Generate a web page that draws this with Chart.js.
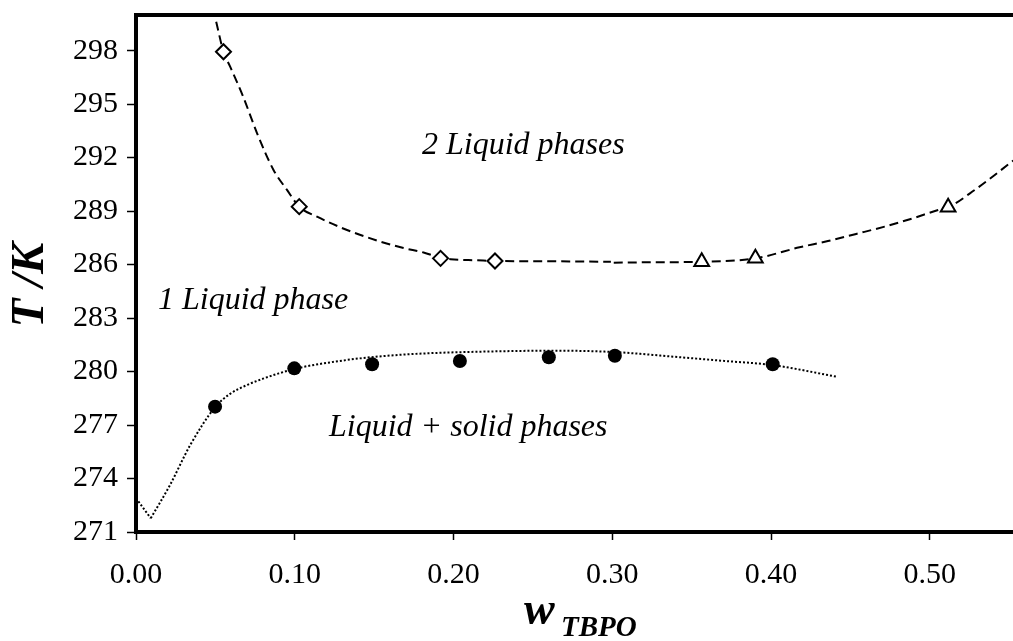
<!DOCTYPE html>
<html>
<head>
<meta charset="utf-8">
<script src="https://cdn.jsdelivr.net/npm/chart.js@4/dist/chart.umd.min.js"></script>
<style>
html,body{margin:0;padding:0;background:#fff;overflow:hidden;width:1013px;height:641px}
#wrap{width:1013px;height:641px;overflow:hidden;position:relative}
canvas{display:block;position:absolute;left:0;top:0}
</style>
</head>
<body>
<div id="wrap"><canvas id="c" width="1025" height="641"></canvas></div>
<script>
// ---- tick labels ----
const xTicks = [0, 0.1, 0.2, 0.3, 0.4, 0.5];
const yTicks = [271, 274, 277, 280, 283, 286, 289, 292, 295, 298];

// ---- measured points ----
const diamondX = [0.0551, 0.1028, 0.1918, 0.2261];
const diamondT = [297.94, 289.25, 286.35, 286.20];
const triangleX = [0.3563, 0.3901, 0.5115];
const triangleT = [286.16, 286.35, 289.21];
const circleX = [0.0498, 0.0997, 0.1487, 0.2040, 0.2600, 0.3016, 0.4010];
const circleT = [278.03, 280.18, 280.41, 280.59, 280.80, 280.89, 280.41];

// ---- fitted curves ----
const upperLeftX = [0.0505, 0.0551, 0.0593, 0.0675, 0.0762, 0.0866, 0.0951, 0.1028, 0.1140, 0.1329, 0.1539, 0.1685, 0.1811, 0.1918, 0.1981, 0.2150, 0.2261, 0.2505, 0.2991];
const upperLeftT = [299.62, 297.94, 297.10, 295.42, 293.38, 291.31, 290.19, 289.25, 288.69, 287.94, 287.29, 286.93, 286.68, 286.38, 286.30, 286.24, 286.20, 286.19, 286.16];
const upperRightX = [0.3009, 0.3243, 0.3563, 0.3901, 0.4179, 0.4358, 0.4536, 0.4715, 0.4894, 0.5052, 0.5115, 0.5283, 0.5525];
const upperRightT = [286.11, 286.13, 286.16, 286.35, 286.97, 287.32, 287.72, 288.13, 288.60, 289.06, 289.21, 290.19, 291.83];
const solidusNoseX = [0, 0.0093];
const solidusNoseT = [272.90, 271.77];
const solidusX = [0.0093, 0.0215, 0.0340, 0.0498, 0.0593, 0.0700, 0.0800, 0.0900, 0.1050, 0.1250, 0.1430, 0.1650, 0.1850, 0.2200, 0.2610, 0.3000, 0.3430, 0.3700, 0.4010, 0.4420];
const solidusT = [271.77, 273.65, 275.85, 278.00, 278.75, 279.25, 279.60, 279.90, 280.25, 280.55, 280.76, 280.93, 281.03, 281.12, 281.17, 281.10, 280.80, 280.60, 280.36, 279.70];

// ---- texts ----
const yTitle = 'T /K';
const xTitleMain = 'w';
const xTitleSub = 'TBPO';
const regionLabels = ['2 Liquid phases', '1 Liquid phase', 'Liquid + solid phases'];

const pts = (xs, ys) => xs.map((v, i) => ({x: v, y: ys[i]}));
const SERIF = '"Liberation Serif", "Times New Roman", serif';

const curve = (xs, ys, dash, width, mode) => ({
  data: pts(xs, ys), showLine: true, pointRadius: 0, borderColor: '#000',
  borderWidth: width, borderDash: dash, fill: false,
  tension: mode === 'linear' ? 0 : 0.4,
  cubicInterpolationMode: mode === 'linear' ? 'default' : 'monotone'
});

const decorPlugin = {
  id: 'decor',
  afterDatasetsDraw(chart) {
    const {ctx, chartArea: a} = chart;
    ctx.save();
    // top frame line
    ctx.strokeStyle = '#000';
    ctx.lineWidth = 4;
    ctx.beginPath();
    ctx.moveTo(a.left - 2, a.top);
    ctx.lineTo(chart.width, a.top);
    ctx.stroke();
    ctx.fillStyle = '#000';
    // region labels
    ctx.font = 'italic 32px ' + SERIF;
    ctx.textAlign = 'left';
    ctx.textBaseline = 'alphabetic';
    ctx.fillText(regionLabels[0], 422, 154);
    ctx.fillText(regionLabels[1], 158, 309);
    ctx.fillText(regionLabels[2], 329, 436);
    // y title
    ctx.save();
    ctx.translate(31, 285);
    ctx.rotate(-Math.PI / 2);
    ctx.font = 'bold italic 47px ' + SERIF;
    ctx.textAlign = 'center';
    ctx.textBaseline = 'middle';
    ctx.fillText(yTitle, 0, 0);
    ctx.restore();
    // x title with subscript
    ctx.font = 'bold italic 46px ' + SERIF;
    ctx.textAlign = 'left';
    ctx.fillText(xTitleMain, 524, 624);
    ctx.font = 'bold italic 29px ' + SERIF;
    ctx.fillText(xTitleSub, 561, 636);
    ctx.restore();
  }
};

new Chart(document.getElementById('c'), {
  type: 'scatter',
  data: {
    datasets: [
      {data: pts(diamondX, diamondT), pointStyle: 'rectRot', pointRadius: 7.5, pointBackgroundColor: '#fff', pointBorderColor: '#000', pointBorderWidth: 2},
      {data: pts(triangleX, triangleT), pointStyle: 'triangle', pointRadius: 8.5, pointBackgroundColor: '#fff', pointBorderColor: '#000', pointBorderWidth: 2},
      {data: pts(circleX, circleT), pointStyle: 'circle', pointRadius: 7, pointBackgroundColor: '#000', pointBorderColor: '#000', pointBorderWidth: 0},
      curve(upperLeftX, upperLeftT, [9, 5], 2, 'monotone'),
      curve(upperRightX, upperRightT, [9, 5], 2, 'monotone'),
      curve(solidusNoseX, solidusNoseT, [2, 2], 2, 'linear'),
      curve(solidusX, solidusT, [2, 2], 2, 'monotone')
    ]
  },
  options: {
    responsive: false,
    animation: false,
    devicePixelRatio: 1,
    layout: {padding: {top: 15, left: 0, right: 0, bottom: 0}},
    plugins: {legend: {display: false}, tooltip: {enabled: false}},
    scales: {
      x: {
        type: 'linear', position: 'bottom', min: 0, max: 0.5533,
        afterBuildTicks: s => { s.ticks = xTicks.map(v => ({value: v})); },
        afterFit: s => { s.height = 109; s.paddingLeft = 0; s.paddingRight = 0; },
        grid: {display: true, drawOnChartArea: false, drawTicks: true, tickLength: 8, tickWidth: 1.5, tickColor: '#000'},
        border: {display: true, color: '#000', width: 4},
        ticks: {color: '#000', padding: 17, maxRotation: 0, autoSkip: false,
          font: {family: SERIF, size: 30}, callback: v => Number(v).toFixed(2)}
      },
      y: {
        type: 'linear', position: 'left', min: 271, max: 300,
        afterBuildTicks: s => { s.ticks = yTicks.map(v => ({value: v})); },
        afterFit: s => { s.width = 136; s.paddingTop = 0; s.paddingBottom = 0; },
        grid: {display: true, drawOnChartArea: false, drawTicks: true, tickLength: 9, tickWidth: 1.5, tickColor: '#000'},
        border: {display: true, color: '#000', width: 4},
        ticks: {color: '#000', padding: 9, autoSkip: false,
          font: {family: SERIF, size: 30}, callback: v => String(v)}
      }
    }
  },
  plugins: [decorPlugin]
});
</script>
</body>
</html>
